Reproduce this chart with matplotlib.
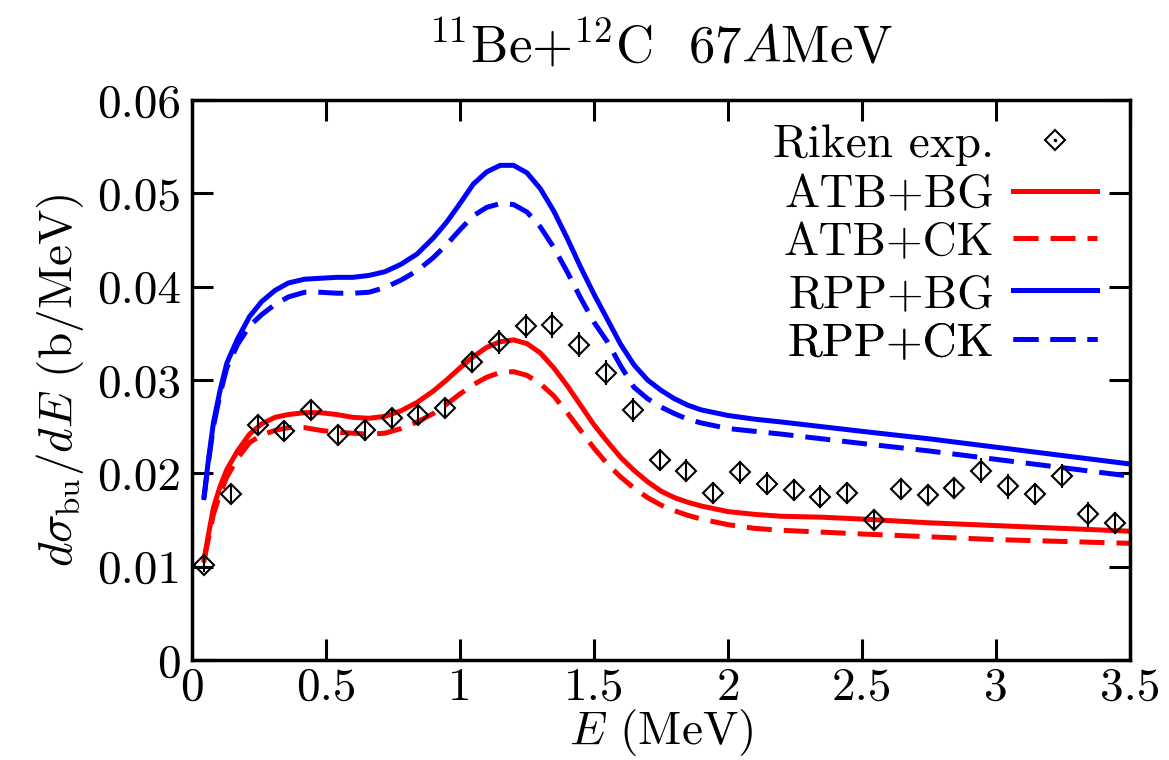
import matplotlib
matplotlib.use('Agg')
import matplotlib.pyplot as plt
from matplotlib.lines import Line2D
from matplotlib.legend_handler import HandlerTuple

plt.rcParams['font.family'] = 'serif'
plt.rcParams['font.serif'] = ['cmr10']
plt.rcParams['mathtext.fontset'] = 'cm'
plt.rcParams['axes.unicode_minus'] = False
plt.rcParams['axes.formatter.use_mathtext'] = True

# RIKEN breakup data
e_exp = [0.045, 0.145, 0.245, 0.345, 0.445, 0.545, 0.645, 0.745, 0.845, 0.945,
         1.045, 1.145, 1.245, 1.345, 1.445, 1.545, 1.645, 1.745, 1.845, 1.945,
         2.045, 2.145, 2.245, 2.345, 2.445, 2.545, 2.645, 2.745, 2.845, 2.945,
         3.045, 3.145, 3.245, 3.345, 3.445]
sig_exp = [0.0102, 0.0178, 0.0252, 0.0245, 0.0268, 0.0241, 0.0246, 0.0259, 0.0263, 0.0270,
           0.0319, 0.0341, 0.0358, 0.0359, 0.0338, 0.0308, 0.0268, 0.0214, 0.0203, 0.0179,
           0.0201, 0.0189, 0.0182, 0.0175, 0.0179, 0.0150, 0.0183, 0.0177, 0.0184, 0.0203,
           0.0186, 0.0178, 0.0197, 0.0156, 0.0147]
err_exp = [0.0008, 0.0009, 0.0010, 0.0010, 0.0011, 0.0010, 0.0011, 0.0011, 0.0011, 0.0011,
           0.0012, 0.0013, 0.0013, 0.0014, 0.0013, 0.0013, 0.0013, 0.0012, 0.0012, 0.0012,
           0.0012, 0.0012, 0.0012, 0.0012, 0.0012, 0.0012, 0.0012, 0.0012, 0.0012, 0.0013,
           0.0013, 0.0012, 0.0013, 0.0013, 0.0012]

# calculations
e_th = [0.045, 0.06, 0.08, 0.105, 0.13, 0.17, 0.215, 0.26, 0.31, 0.36,
        0.42, 0.48, 0.54, 0.60, 0.66, 0.72, 0.78, 0.84, 0.90, 0.95,
        1.00, 1.05, 1.10, 1.15, 1.20, 1.25, 1.30, 1.35, 1.40, 1.45,
        1.50, 1.55, 1.60, 1.65, 1.70, 1.75, 1.80, 1.85, 1.90, 1.95,
        2.00, 2.10, 2.20, 2.35, 2.50, 2.75, 3.00, 3.25, 3.50]
atb_bg = [0.0107, 0.0132, 0.0163, 0.0186, 0.0204, 0.0224, 0.0242, 0.0253, 0.0260, 0.0263,
          0.0265, 0.0265, 0.0263, 0.0260, 0.0259, 0.0261, 0.0267, 0.0276, 0.0288, 0.0300,
          0.0313, 0.0325, 0.0335, 0.0341, 0.0343, 0.0339, 0.0329, 0.0313, 0.0294, 0.0273,
          0.0252, 0.0234, 0.0217, 0.0203, 0.0191, 0.0181, 0.0174, 0.0169, 0.0165, 0.0162,
          0.0159, 0.0156, 0.0154, 0.0153, 0.0151, 0.0147, 0.0144, 0.0141, 0.0138]
atb_ck = [0.0107, 0.0128, 0.0156, 0.0178, 0.0196, 0.0216, 0.0233, 0.0241, 0.0246, 0.0249,
          0.0249, 0.0246, 0.0244, 0.0243, 0.0242, 0.0243, 0.0248, 0.0255, 0.0264, 0.0274,
          0.0285, 0.0295, 0.0303, 0.0308, 0.0309, 0.0305, 0.0296, 0.0283, 0.0265, 0.0246,
          0.0227, 0.0210, 0.0196, 0.0184, 0.0174, 0.0166, 0.0160, 0.0155, 0.0151, 0.0148,
          0.0145, 0.0141, 0.0139, 0.0137, 0.0135, 0.0132, 0.0129, 0.0127, 0.0125]
rpp_bg = [0.0174, 0.0211, 0.0254, 0.0289, 0.0318, 0.0344, 0.0368, 0.0384, 0.0396, 0.0404,
          0.0408, 0.0409, 0.0410, 0.0410, 0.0412, 0.0416, 0.0424, 0.0435, 0.0452, 0.0469,
          0.0489, 0.0510, 0.0523, 0.0530, 0.0530, 0.0522, 0.0505, 0.0481, 0.0452, 0.0421,
          0.0392, 0.0365, 0.0338, 0.0316, 0.0300, 0.0289, 0.0280, 0.0273, 0.0268, 0.0265,
          0.0262, 0.0258, 0.0255, 0.0250, 0.0245, 0.0237, 0.0228, 0.0219, 0.0210]
rpp_ck = [0.0174, 0.0209, 0.0250, 0.0285, 0.0313, 0.0338, 0.0358, 0.0370, 0.0381, 0.0389,
          0.0394, 0.0394, 0.0393, 0.0393, 0.0394, 0.0399, 0.0407, 0.0417, 0.0431, 0.0445,
          0.0461, 0.0476, 0.0485, 0.0489, 0.0488, 0.0480, 0.0464, 0.0442, 0.0416, 0.0388,
          0.0362, 0.0341, 0.0315, 0.0292, 0.0280, 0.0271, 0.0264, 0.0258, 0.0254, 0.0251,
          0.0248, 0.0245, 0.0242, 0.0237, 0.0232, 0.0224, 0.0215, 0.0206, 0.0197]

labels = ['Riken exp.', 'ATB+BG', 'ATB+CK', 'RPP+BG', 'RPP+CK']

fs = 34
lw = 3.6
dash = (5, 2.4)

fig = plt.figure(figsize=(11.69, 7.6), dpi=100)
ax = fig.add_axes([0.1642, 0.1316, 0.8024, 0.7368])

ax.errorbar(e_exp, sig_exp, yerr=err_exp, fmt='D', ms=10, mfc='none', mec='k',
            mew=1.5, ecolor='k', elinewidth=1.5, capsize=0, zorder=3)
l1, = ax.plot(e_th, atb_bg, color='red', lw=lw)
l2, = ax.plot(e_th, atb_ck, color='red', lw=lw, dashes=dash)
l3, = ax.plot(e_th, rpp_bg, color='blue', lw=lw)
l4, = ax.plot(e_th, rpp_ck, color='blue', lw=lw, dashes=dash)

ax.set_xlim(0, 3.5)
ax.set_ylim(0, 0.06)
ax.set_xticks([0, 0.5, 1, 1.5, 2, 2.5, 3, 3.5])
ax.set_xticklabels(['0', '0.5', '1', '1.5', '2', '2.5', '3', '3.5'])
ax.set_yticks([0, 0.01, 0.02, 0.03, 0.04, 0.05, 0.06])
ax.set_yticklabels(['0', '0.01', '0.02', '0.03', '0.04', '0.05', '0.06'])
ax.tick_params(direction='in', top=True, right=True, length=15, width=2.2,
               labelsize=fs, pad=8)
ax.tick_params(axis='x', pad=5)
for s in ax.spines.values():
    s.set_linewidth(2.5)

ax.set_xlabel(r'$E$ (MeV)', fontsize=fs, labelpad=-1)
ax.set_ylabel(r'$d\sigma_{\rm bu}/dE$ (b/MeV)', fontsize=fs, labelpad=8)
ax.set_title(r'$^{11}$Be+$^{12}$C  67$A$MeV', fontsize=38, pad=27)

# key: one legend per row so that the labels line up on the right
exp_key = (Line2D([], [], ls='none', marker='D', ms=10, mfc='none', mec='k', mew=1.5),
           Line2D([], [], ls='none', marker='o', ms=1.5, mfc='k', mec='k'))
keys = [exp_key, l1, l2, l3, l4]
rows = [0.920, 0.830, 0.745, 0.652, 0.566]
for h, lab, yr in zip(keys, labels, rows):
    leg = ax.legend([h], [lab], loc='center right', bbox_to_anchor=(0.965, yr),
                    markerfirst=False, frameon=False, fontsize=fs,
                    handlelength=1.78, handletextpad=0.4, borderpad=0,
                    borderaxespad=0, handler_map={tuple: HandlerTuple(ndivide=1)})
    ax.add_artist(leg)

fig.savefig('out.png', dpi=100)
